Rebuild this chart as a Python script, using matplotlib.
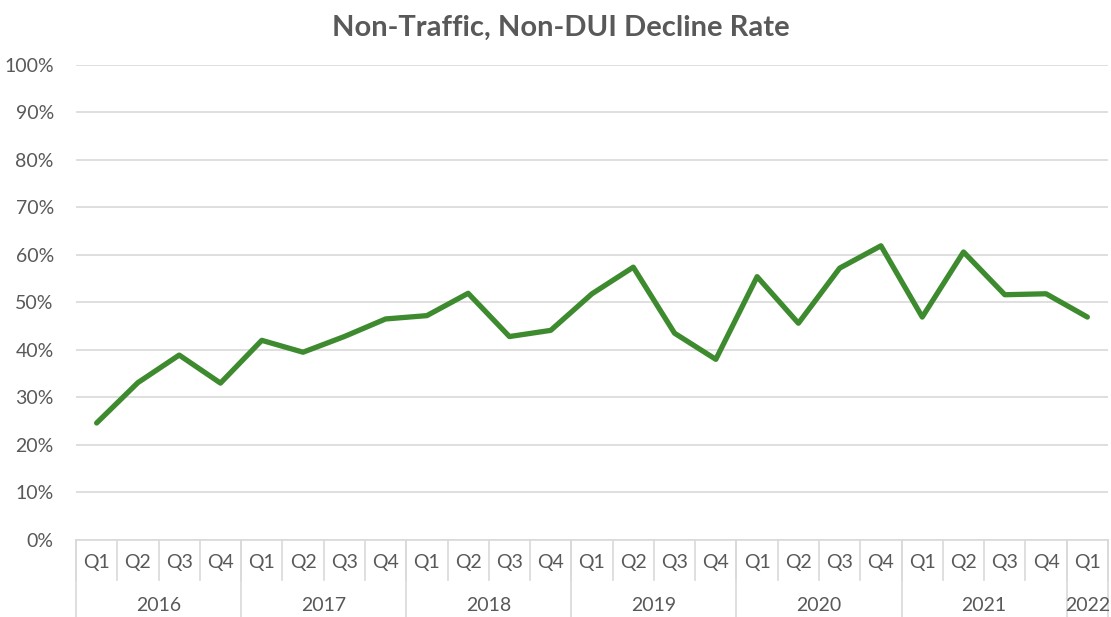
import matplotlib
matplotlib.use("Agg")
import matplotlib.pyplot as plt
import matplotlib.transforms as mtransforms
import numpy as np

# quarterly decline rate (%), Q1 2016 .. Q1 2022
years = ["2016", "2017", "2018", "2019", "2020", "2021", "2022"]
quarters_per_year = [4, 4, 4, 4, 4, 4, 1]
quarter_labels = ["Q1", "Q2", "Q3", "Q4"] * 6 + ["Q1"]
decline_rate = [24.6, 33.1, 38.9, 33.0,
                42.0, 39.5, 42.8, 46.5,
                47.2, 51.9, 42.8, 44.1,
                51.8, 57.4, 43.5, 38.0,
                55.4, 45.6, 57.2, 61.9,
                46.9, 60.6, 51.6, 51.8,
                46.9]

plt.rcParams['font.family'] = ['Lato', 'DejaVu Sans']
text_color = '#595959'
grid_color = '#d9d9d9'

fig = plt.figure(figsize=(11.11, 6.17), dpi=100)
ax = fig.add_axes([0.0684, 0.125, 0.9289, 0.77])

x = np.arange(len(decline_rate))
ax.plot(x, decline_rate, color='#3d8b2e', linewidth=3.8, solid_joinstyle='round',
        solid_capstyle='round', zorder=3)

ax.set_xlim(-0.5, len(decline_rate) - 0.5)
ax.set_ylim(0, 100)
ax.set_yticks(np.arange(0, 101, 10))
ax.set_yticklabels([f"{v}%" for v in range(0, 101, 10)])
ax.yaxis.grid(True, color=grid_color, linewidth=1.2)
ax.set_axisbelow(True)

for s in ['top', 'right', 'left']:
    ax.spines[s].set_visible(False)
ax.spines['bottom'].set_color(grid_color)
ax.spines['bottom'].set_linewidth(1.2)

ax.set_xticks(x)
ax.set_xticklabels(quarter_labels)
ax.tick_params(axis='both', length=0, colors=text_color, labelsize=14)
ax.tick_params(axis='x', pad=10)
ax.tick_params(axis='y', pad=16)

# category separators
trans = mtransforms.blended_transform_factory(ax.transData, ax.transAxes)
for i in range(len(decline_rate) + 1):
    ax.plot([i - 0.5, i - 0.5], [0, -0.084], transform=trans, color=grid_color,
            linewidth=1.2, clip_on=False)

start = 0
bounds = [0]
for yr, n in zip(years, quarters_per_year):
    center = start + (n - 1) / 2
    ax.text(center, -0.138, yr, transform=trans, ha='center', va='center',
            fontsize=14, color=text_color)
    start += n
    bounds.append(start)
for b in bounds:
    ax.plot([b - 0.5, b - 0.5], [0, -0.17], transform=trans, color=grid_color,
            linewidth=1.2, clip_on=False)

fig.text(0.505, 0.955, "Non-Traffic, Non-DUI Decline Rate", ha='center', va='center',
         fontsize=21, fontweight='bold', color=text_color)

fig.savefig("out.png", dpi=100, facecolor='white')
